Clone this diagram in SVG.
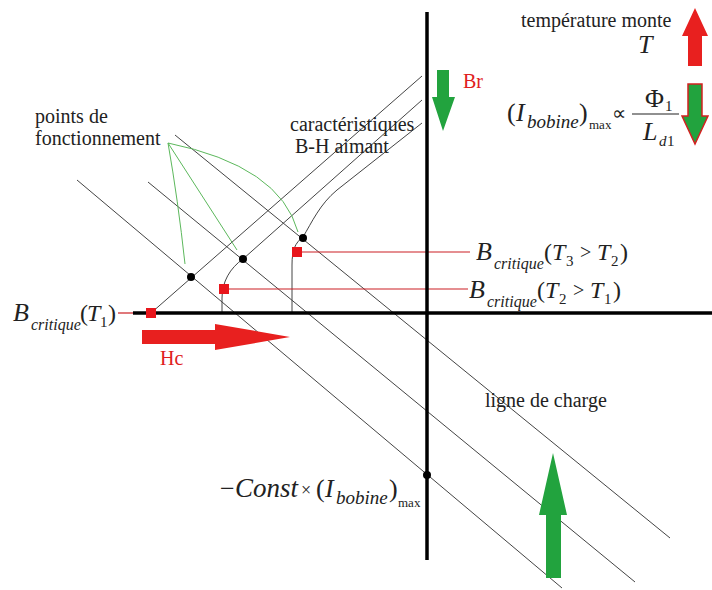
<svg xmlns="http://www.w3.org/2000/svg" width="712" height="590" viewBox="0 0 712 590">
<style>
.t{font-family:"Liberation Serif","Times New Roman",serif;font-size:20px;fill:#222}
.m{font-family:"Liberation Serif","Times New Roman",serif;font-size:24px;fill:#222}
.b{font-size:26px}
.i{font-style:italic}
.s{font-size:16px}
.sb{font-size:19px}
.x{font-size:13px}
.thin{stroke:#444;stroke-width:1;fill:none}
.axis{stroke:#000;stroke-width:3.5;fill:none}
.red{stroke:#cc1f24;stroke-width:1.2;fill:none}
.grn{stroke:#5cb85c;stroke-width:1;fill:none}
.sq{fill:#e8161c}
.dot{fill:#000}
.ga{fill:#22a33e}
.ra{fill:#e8201f}
</style>
<rect width="712" height="590" fill="#fff"/>

<g id="connectors">
  <!-- load lines -->
  <line class="thin" x1="77" y1="180" x2="562" y2="588"/>
  <line class="thin" x1="148" y1="182" x2="635" y2="582"/>
  <line class="thin" x1="175" y1="135" x2="670" y2="538"/>
  <!-- B-H characteristics -->
  <path class="thin" d="M151,313 L422,76"/>
  <path class="thin" d="M222,313 L222,298 C222,282 230,268 243,259 L422,100"/>
  <path class="thin" d="M292,313 L292,265 C292,250 295,243 303,237 C312,222 320,204 337,190 L422,123"/>
  <!-- green pointers -->
  <path class="grn" d="M168,143 Q178,200 185,264"/>
  <path class="grn" d="M168,143 L237,250"/>
  <path class="grn" d="M168,143 Q280,166 298,232"/>
  <!-- red critical lines -->
  <line class="red" x1="118" y1="313" x2="150" y2="313"/>
  <line class="red" x1="224" y1="289" x2="468" y2="289"/>
  <line class="red" x1="297" y1="252" x2="470" y2="252"/>
  <!-- axes -->
  <line class="axis" x1="133" y1="313" x2="712" y2="313"/>
  <line class="axis" x1="427" y1="12" x2="427" y2="560"/>
</g>

<g id="markers">
  <rect class="sq" x="146" y="308" width="10" height="10"/>
  <rect class="sq" x="219" y="284" width="10" height="10"/>
  <rect class="sq" x="292" y="247" width="10" height="10"/>
  <circle class="dot" cx="191" cy="277" r="4"/>
  <circle class="dot" cx="243" cy="259" r="4"/>
  <circle class="dot" cx="303" cy="238" r="4"/>
  <circle class="dot" cx="427" cy="475" r="4"/>
</g>

<g id="arrow-hc">
  <polygon class="ra" points="142,330 215,330 215,324 290,337 215,350 215,344 142,344"/>
  <text class="t" x="160" y="365" style="fill:#e02020">Hc</text>
</g>

<g id="arrow-br">
  <polygon class="ga" points="437,70 449,70 449,97 455,97 443,131 432,97 437,97"/>
  <text class="t" x="463" y="88" style="fill:#e02020">Br</text>
</g>

<g id="arrow-temp">
  <polygon class="ra" points="695,8 708,36 702,36 702,66 688,66 688,36 682,36"/>
</g>

<g id="arrow-imax">
  <polygon class="ga" points="688,84 702,84 702,116 708,116 695,144 682,116 688,116" stroke="#d42020" stroke-width="1.5"/>
</g>

<g id="arrow-load">
  <polygon class="ga" points="553,453 567,515 561,515 561,578 546,578 546,515 539,515"/>
</g>

<g id="label-temp">
  <text class="t" x="521" y="27">température monte</text>
  <text class="m b i" x="638" y="53">T</text>
</g>

<g id="label-imax">
  <text class="m b" x="507" y="121">(</text>
  <text class="m b i" x="516" y="121">I</text>
  <text class="m i sb" x="527" y="128">bobine</text>
  <text class="m b" x="579" y="121">)</text>
  <text class="m x" x="589" y="129">max</text>
  <text class="m" x="612" y="120" style="font-size:20px">∝</text>
  <line x1="632" y1="114" x2="679" y2="114" stroke="#222" stroke-width="1.2"/>
  <text class="m b" x="645" y="107">Φ</text>
  <text class="m" x="665" y="111" style="font-size:15px">1</text>
  <text class="m b i" x="643" y="140">L</text>
  <text class="m i" x="659" y="146" style="font-size:15px">d</text>
  <text class="m" x="667" y="146" style="font-size:15px">1</text>
</g>

<g id="label-points">
  <text class="t" x="35" y="123">points de</text>
  <text class="t" x="35" y="145">fonctionnement</text>
</g>

<g id="label-bh">
  <text class="t" x="290" y="131">caractéristiques</text>
  <text class="t" x="295" y="153">B-H aimant</text>
</g>

<g id="label-bcrit1">
  <text class="m b i" x="13" y="321">B</text>
  <text class="m i s" x="31" y="330">critique</text>
  <text class="m" x="80" y="321">(</text>
  <text class="m i" x="87" y="321">T</text>
  <text class="m" x="100" y="327" style="font-size:15px">1</text>
  <text class="m" x="108" y="321">)</text>
</g>

<g id="label-bcrit3">
  <text class="m b i" x="476" y="260">B</text>
  <text class="m i s" x="494" y="269">critique</text>
  <text class="m" x="544" y="260">(</text>
  <text class="m i" x="552" y="260">T</text>
  <text class="m" x="566" y="266" style="font-size:15px">3</text>
  <text class="m" x="580" y="259" style="font-size:20px">&gt;</text>
  <text class="m i" x="597" y="260">T</text>
  <text class="m" x="611" y="266" style="font-size:15px">2</text>
  <text class="m" x="620" y="260">)</text>
</g>

<g id="label-bcrit2">
  <text class="m b i" x="469" y="298">B</text>
  <text class="m i s" x="487" y="307">critique</text>
  <text class="m" x="537" y="298">(</text>
  <text class="m i" x="545" y="298">T</text>
  <text class="m" x="559" y="304" style="font-size:15px">2</text>
  <text class="m" x="573" y="297" style="font-size:20px">&gt;</text>
  <text class="m i" x="590" y="298">T</text>
  <text class="m" x="604" y="304" style="font-size:15px">1</text>
  <text class="m" x="613" y="298">)</text>
</g>

<g id="label-load">
  <text class="t" x="485" y="407">ligne de charge</text>
</g>

<g id="label-const">
  <text class="m b" x="220" y="497">−</text>
  <text class="m i" x="235" y="497" style="font-size:27px">Const</text>
  <text class="m" x="301" y="496" style="font-size:18px">×</text>
  <text class="m b" x="316" y="497">(</text>
  <text class="m b i" x="325" y="497">I</text>
  <text class="m i sb" x="336" y="504">bobine</text>
  <text class="m b" x="389" y="497">)</text>
  <text class="m x" x="398" y="507">max</text>
</g>
</svg>
